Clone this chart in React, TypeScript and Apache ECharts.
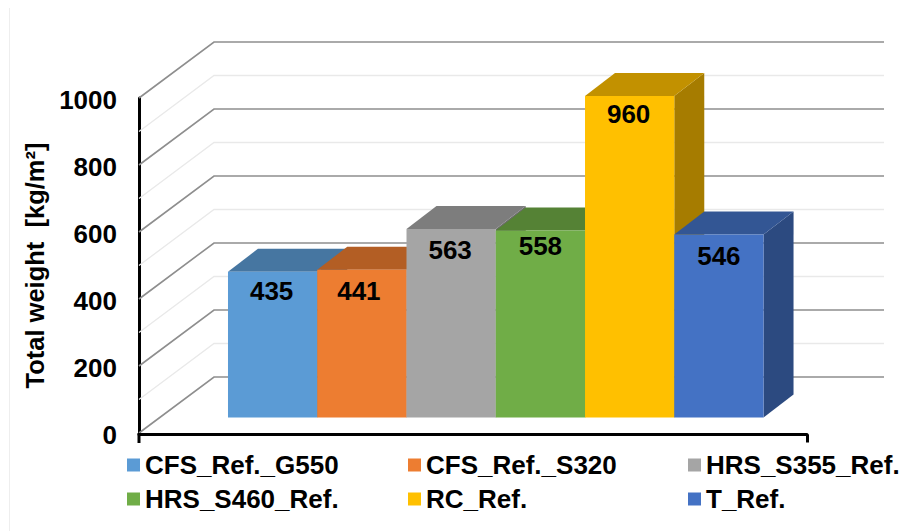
import React, { useEffect, useRef } from "react";
import * as echarts from "echarts";

const seriesNames = ["CFS_Ref._G550", "CFS_Ref._S320", "HRS_S355_Ref.", "HRS_S460_Ref.", "RC_Ref.", "T_Ref."];
const seriesValues = [435, 441, 563, 558, 960, 546];
const seriesColors = ["#5B9BD5", "#ED7D31", "#A5A5A5", "#70AD47", "#FFC000", "#4472C4"];
const topColors = ["#4676A1", "#B35E24", "#7D7D7D", "#558235", "#C29100", "#335694"];
const sideColors = ["#3B6489", "#9B5120", "#6C6C6C", "#49702E", "#A67C00", "#2C4A80"];
const wallTicks = [0, 100, 200, 300, 400, 500, 600, 700, 800, 900, 1000];
const yTicks = [0, 200, 400, 600, 800, 1000];
const labelDrop = [19, 21, 21, 15, 18, 21];
const labelShift = [-1, -3, -1, 0, -1, 0];

const FONT = "'Liberation Sans', Arial, sans-serif";
const X_MIN = -0.997;
const X_MAX = 6.487;
const WALL_DX = 75;
const WALL_DY = -56;
const WALL_RIGHT = 884;
const BAR_LIFT = 15.5;
const BAR_DX = 30;
const BAR_DY = -23;

const legendPos = [
  [127, 465], [408, 465], [688, 465],
  [127, 499], [408, 499], [688, 499],
];

export default function App() {
  const ref = useRef<HTMLDivElement>(null);
  useEffect(() => {
    const chart = echarts.init(ref.current!, null, { renderer: "svg" });

    const wallSeries: any = {
      type: "custom",
      name: "wall",
      silent: true,
      z: 1,
      data: wallTicks.map((v) => [X_MIN, v]),
      encode: { x: 0, y: 1 },
      renderItem: (_p: any, api: any) => {
        const v = api.value(1);
        const [x0, y0] = api.coord([X_MIN, v]);
        const major = v % 200 === 0;
        const stroke = major ? "#8E8E8E" : "#E9E9E9";
        return {
          type: "polyline",
          shape: { points: [[x0, y0], [x0 + WALL_DX, y0 + WALL_DY], [WALL_RIGHT, y0 + WALL_DY]] },
          style: { fill: "none", stroke, lineWidth: major ? 1.6 : 1.3 },
        };
      },
    };

    const barSeries: any[] = seriesNames.map((name, i) => ({
      type: "custom",
      name,
      silent: true,
      z: 2,
      itemStyle: { color: seriesColors[i] },
      data: [[i, seriesValues[i]]],
      encode: { x: 0, y: 1 },
      renderItem: (_p: any, api: any) => {
        const idx = api.value(0);
        const val = api.value(1);
        const [x0, y0] = api.coord([idx, 0]);
        const [x1, yTop] = api.coord([idx + 1, val]);
        const b = y0 - BAR_LIFT;
        const t = yTop - BAR_LIFT;
        return {
          type: "group",
          children: [
            {
              type: "polygon",
              shape: { points: [[x1, b], [x1 + BAR_DX, b + BAR_DY], [x1 + BAR_DX, t + BAR_DY], [x1, t]] },
              style: { fill: sideColors[i] },
            },
            {
              type: "polygon",
              shape: { points: [[x0, t], [x0 + BAR_DX, t + BAR_DY], [x1 + BAR_DX, t + BAR_DY], [x1, t]] },
              style: { fill: topColors[i] },
            },
            {
              type: "rect",
              shape: { x: x0, y: t, width: x1 - x0, height: b - t },
              style: { fill: seriesColors[i] },
            },
            {
              type: "text",
              style: {
                x: (x0 + x1) / 2 + labelShift[i],
                y: t + labelDrop[i],
                text: String(val),
                fill: "#000",
                font: `bold 26px ${FONT}`,
                align: "center",
                verticalAlign: "middle",
              },
            },
          ],
        };
      },
    }));

    chart.setOption({
      animation: false,
      backgroundColor: "#fff",
      grid: { left: 139, right: 96, top: 98, height: 335 },
      graphic: [
        {
          type: "line",
          silent: true,
          shape: { x1: 9.5, y1: 8, x2: 9.5, y2: 531 },
          style: { stroke: "#EEEEEE", lineWidth: 1 },
        },
        {
          type: "line",
          silent: true,
          z: 10,
          shape: { x1: 139, y1: 433, x2: 139, y2: 443 },
          style: { stroke: "#000", lineWidth: 3 },
        },
      ],
      xAxis: {
        type: "value",
        min: X_MIN,
        max: X_MAX,
        offset: 1.5,
        splitLine: { show: false },
        axisLabel: { show: false },
        axisLine: { show: true, onZero: false, lineStyle: { color: "#000", width: 3 } },
        axisTick: { show: true, customValues: [X_MAX], length: 8, lineStyle: { color: "#000", width: 3 } },
      },
      yAxis: {
        type: "value",
        min: yTicks[0],
        max: yTicks[yTicks.length - 1],
        interval: yTicks[1] - yTicks[0],
        splitLine: { show: false },
        axisLine: { show: true, onZero: false, lineStyle: { color: "#000", width: 3 } },
        axisTick: { show: false },
        axisLabel: {
          color: "#000",
          fontFamily: FONT,
          fontWeight: "bold",
          fontSize: 26,
          margin: 22,
          formatter: (v: number) => `{a|${v}}`,
          rich: {
            a: { color: "#000", fontFamily: FONT, fontWeight: "bold", fontSize: 26, padding: [4, 0, 0, 0] },
          },
        },
        name: "Total weight  [kg/m²]",
        nameLocation: "middle",
        nameGap: 88,
        nameRotate: 90,
        nameTextStyle: { color: "#000", fontFamily: FONT, fontWeight: "bold", fontSize: 25.5 },
      },
      legend: seriesNames.map((name, i) => ({
        data: [name],
        left: legendPos[i][0],
        top: legendPos[i][1] - 13,
        padding: 0,
        icon: "rect",
        itemWidth: 13,
        itemHeight: 13,
        itemGap: 6,
        selectedMode: false,
        textStyle: { color: "#000", fontFamily: FONT, fontWeight: "bold", fontSize: 26, padding: [0, 0, 0, 0] },
      })),
      series: [wallSeries, ...barSeries],
    });
    return () => chart.dispose();
  }, []);
  return <div ref={ref} style={{ position: "absolute", left: 0, top: 0, width: 903, height: 531 }} />;
}
